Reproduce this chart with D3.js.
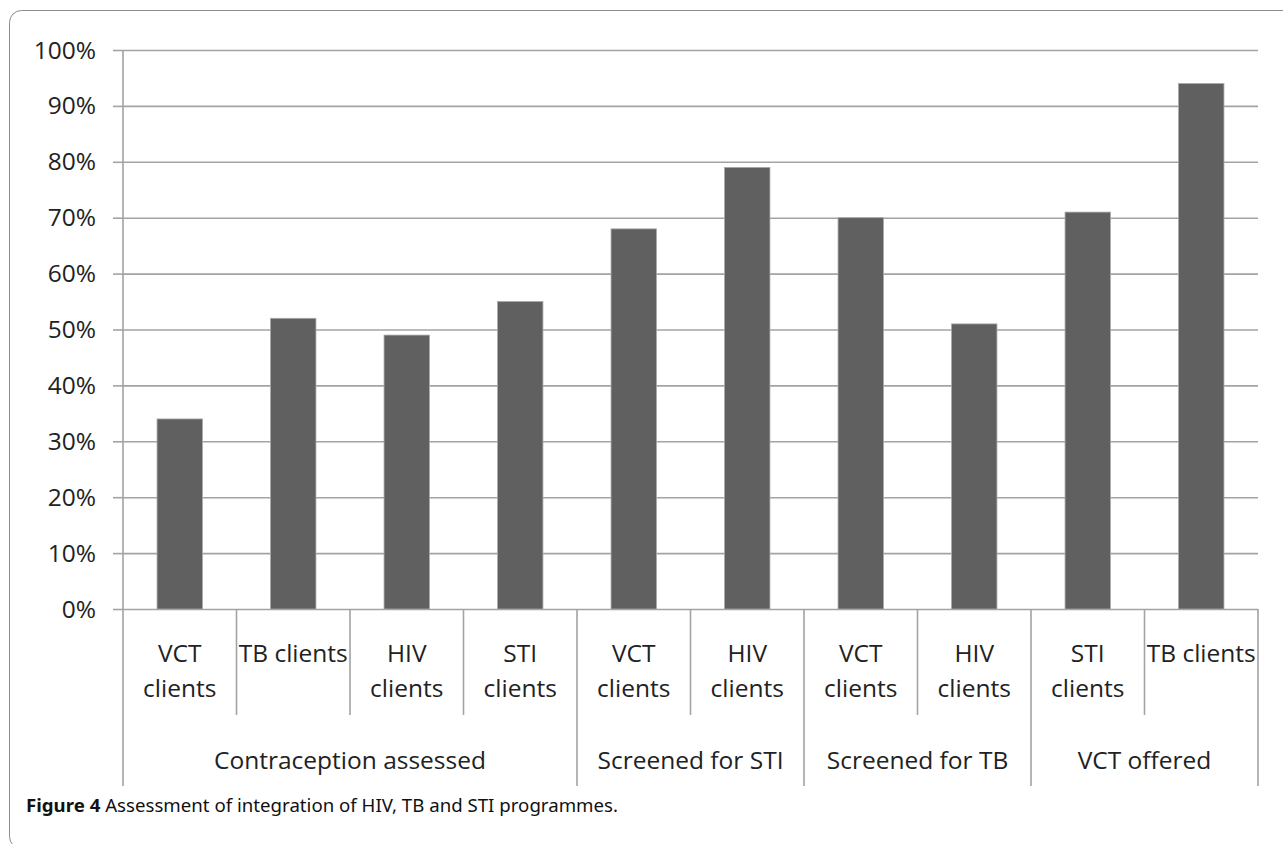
<!DOCTYPE html>
<html>
<head>
<meta charset="utf-8">
<script src="https://cdn.jsdelivr.net/npm/d3@7"></script>
<style>
  html, body { margin: 0; padding: 0; background: #fff; }
  svg { display: block; }
</style>
</head>
<body>
<div id="graph"></div>
<script>
var svgWidth = 1283;
var svgHeight = 844;

// data
var groups = ["Contraception assessed", "Screened for STI", "Screened for TB", "VCT offered"];
var categories = ["VCT clients", "TB clients", "HIV clients", "STI clients", "VCT clients",
                  "HIV clients", "VCT clients", "HIV clients", "STI clients", "TB clients"];
var categoryLines = [["VCT", "clients"], ["TB clients"], ["HIV", "clients"], ["STI", "clients"],
                     ["VCT", "clients"], ["HIV", "clients"], ["VCT", "clients"], ["HIV", "clients"],
                     ["STI", "clients"], ["TB clients"]];
var categoryGroup = [0, 0, 0, 0, 1, 1, 2, 2, 3, 3];
var values = [34, 52, 49, 55, 68, 79, 70, 51, 71, 94];
var yTicks = [0, 10, 20, 30, 40, 50, 60, 70, 80, 90, 100];

var captionBold = "Figure 4";
var captionText = " Assessment of integration of HIV, TB and STI programmes.";

// layout
var plotLeft = 123, plotRight = 1258, plotTop = 50, plotBottom = 609;
var innerSepBottom = 715, groupSepBottom = 786;
var lineColor = "#a3a3a3";
var textColor = "#222";
var font = "'Open Sans', sans-serif";

var svg = d3.select("#graph")
  .append("svg")
  .attr("width", svgWidth)
  .attr("height", svgHeight);

// rounded frame around the figure
svg.append("rect")
  .attr("x", 9.5).attr("y", 10.5)
  .attr("width", 1320).attr("height", 838)
  .attr("rx", 12)
  .attr("fill", "none")
  .attr("stroke", "#8c8c8c")
  .attr("stroke-width", 1);

var idx = d3.range(categories.length);

var y = d3.scaleLinear().domain([0, 100]).range([plotBottom, plotTop]);

// one cell per category
var cell = d3.scaleBand().domain(idx).range([plotLeft, plotRight]).padding(0);

// bars inside the cells
var x = d3.scaleBand().domain(idx).range([plotLeft, plotRight])
  .paddingInner(0.6).paddingOuter(0.3);

// gridlines
var grid = svg.append("g")
  .attr("transform", "translate(" + plotLeft + ",0)")
  .call(d3.axisLeft(y).tickValues(yTicks).tickSize(-(plotRight - plotLeft)).tickFormat(""));
grid.select(".domain").remove();
grid.selectAll("line").attr("stroke", lineColor).attr("stroke-width", 1.6);

// tick marks + labels
var yAxis = svg.append("g")
  .attr("transform", "translate(" + plotLeft + ",0)")
  .call(d3.axisLeft(y).tickValues(yTicks).tickSize(10).tickPadding(17)
    .tickFormat(function(d) { return d + "%"; }));
yAxis.select(".domain").remove();
yAxis.selectAll("line").attr("stroke", lineColor).attr("stroke-width", 1.6);
yAxis.selectAll("text")
  .attr("font-family", font)
  .attr("font-size", 24.5)
  .attr("fill", textColor)
  .attr("dy", "0.33em");

// left axis line, running down through the label area
svg.append("line")
  .attr("x1", plotLeft).attr("x2", plotLeft)
  .attr("y1", y(100)).attr("y2", groupSepBottom)
  .attr("stroke", lineColor).attr("stroke-width", 1.6);

// bars
svg.append("g").selectAll("rect")
  .data(idx)
  .enter().append("rect")
  .attr("x", function(i) { return x(i); })
  .attr("y", function(i) { return y(values[i]); })
  .attr("width", x.bandwidth())
  .attr("height", function(i) { return y(0) - y(values[i]); })
  .attr("fill", "#606060")
  .attr("stroke", "#a8a8a8")
  .attr("stroke-width", 0.8);

// separators between categories (short) and groups (long)
var bounds = d3.range(1, categories.length + 1);
svg.append("g").selectAll("line")
  .data(bounds)
  .enter().append("line")
  .attr("x1", function(b) { return plotLeft + b * cell.step(); })
  .attr("x2", function(b) { return plotLeft + b * cell.step(); })
  .attr("y1", plotBottom)
  .attr("y2", function(b) {
    var isGroup = b === categories.length || categoryGroup[b] !== categoryGroup[b - 1];
    return isGroup ? groupSepBottom : innerSepBottom;
  })
  .attr("stroke", lineColor)
  .attr("stroke-width", 1.6);

// category labels
var catText = svg.append("g").selectAll("text")
  .data(idx)
  .enter().append("text")
  .attr("text-anchor", "middle")
  .attr("font-family", font)
  .attr("font-size", 24.5)
  .attr("fill", textColor);

catText.selectAll("tspan")
  .data(function(i) { return categoryLines[i].map(function(t) { return { t: t, i: i }; }); })
  .enter().append("tspan")
  .attr("x", function(d) { return cell(d.i) + cell.bandwidth() / 2; })
  .attr("y", function(d, k) { return 662 + k * 35; })
  .text(function(d) { return d.t; });

// group labels
svg.append("g").selectAll("text")
  .data(groups)
  .enter().append("text")
  .attr("x", function(g, gi) {
    var members = idx.filter(function(i) { return categoryGroup[i] === gi; });
    var x0 = cell(members[0]);
    var x1 = cell(members[members.length - 1]) + cell.bandwidth();
    return (x0 + x1) / 2;
  })
  .attr("y", 769)
  .attr("text-anchor", "middle")
  .attr("font-family", font)
  .attr("font-size", 24.5)
  .attr("fill", textColor)
  .text(function(g) { return g; });

// caption
var caption = svg.append("text")
  .attr("x", 26)
  .attr("y", 812)
  .attr("font-family", "'Noto Sans', sans-serif")
  .attr("font-size", 18.5)
  .attr("fill", "#111");
caption.append("tspan").attr("font-weight", "bold").text(captionBold);
caption.append("tspan").text(captionText);
caption.attr("textLength", 592).attr("lengthAdjust", "spacingAndGlyphs");
</script>
</body>
</html>
